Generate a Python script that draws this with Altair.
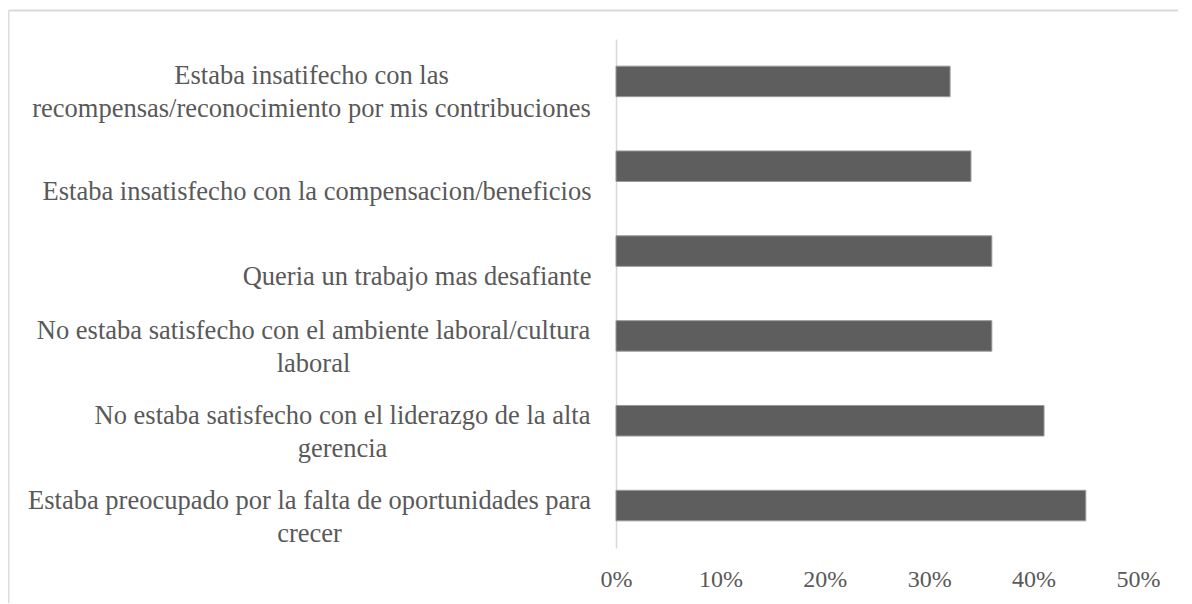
import json
import altair as alt
import pandas as pd

# ---- data ----
categories = [
    "Estaba insatifecho con las|recompensas/reconocimiento por mis contribuciones",
    "Estaba insatisfecho con la compensacion/beneficios",
    "Queria un trabajo mas desafiante",
    "No estaba satisfecho con el ambiente laboral/cultura|laboral",
    "No estaba satisfecho con el liderazgo de la alta|gerencia",
    "Estaba preocupado por la falta de oportunidades para|crecer",
]
values = [0.32, 0.34, 0.36, 0.36, 0.41, 0.45]
tick_values = [0.0, 0.1, 0.2, 0.3, 0.4, 0.5]

df = pd.DataFrame({"motivo": categories, "pct": values})

# ---- layout / style ----
FONT = "Liberation Serif"
TEXT = "#595959"
W, H = 522, 509
PAD = {"left": 608, "top": 31, "right": 40, "bottom": 55}

# two-line labels are centred on their widest line, block right edge near the axis
centre_pad = {categories[0]: 305, categories[3]: 303, categories[4]: 274, categories[5]: 307}
pad_cond = [{"test": f"datum.value === {json.dumps(k)}", "value": v} for k, v in centre_pad.items()]
multi_test = "indexof(datum.value, '|') >= 0"

bars = alt.Chart(df).mark_bar(color="#5e5e5e", stroke="#9a9a9a", strokeWidth=1).encode(
    x=alt.X(
        "pct:Q",
        scale=alt.Scale(domain=[0, 0.5], nice=False, zero=True),
        axis=alt.Axis(
            values=tick_values, format=".0%", grid=False, domain=False, ticks=False, tickSize=0,
            labelFont=FONT, labelFontSize=24, labelColor=TEXT, labelPadding=31,
            labelBaseline="middle", labelFlush=False, title=None,
        ),
    ),
    y=alt.Y(
        "motivo:N",
        sort=categories,
        scale=alt.Scale(paddingInner=0.64, paddingOuter=0.32),
        axis=alt.Axis(
            title=None, ticks=False, tickSize=0, domain=True,
            domainColor="#d9d9d9", domainWidth=1.5, grid=False,
            labelExpr="split(datum.label, '|')",
            labelFont=FONT, labelFontSize=26.5, labelColor=TEXT,
            labelLineHeight=33, labelLimit=1000,
            labelAlign={"condition": {"test": multi_test, "value": "center"}, "value": "right"},
            labelPadding={"condition": pad_cond, "value": 25},
            labelBaseline="bottom",
            labelOffset={"condition": {"test": multi_test, "value": 9}, "value": 40},
        ),
    ),
)

one = alt.Data(values=[{}])
top_border = alt.Chart(one).mark_rule(color="#d9d9d9", strokeWidth=2).encode(
    x=alt.value(-PAD["left"] + 0.5), x2=alt.value(W + PAD["right"]), y=alt.value(-PAD["top"] + 2.5)
)
left_border = alt.Chart(one).mark_rule(color="#dddddd", strokeWidth=1.5).encode(
    x=alt.value(-PAD["left"] + 0.8), y=alt.value(-PAD["top"] + 2.5), y2=alt.value(H + PAD["bottom"])
)

chart = (
    alt.layer(top_border, left_border, bars)
    .properties(width=W, height=H, autosize=alt.AutoSizeParams(type="none"), padding=PAD,
                background="white")
    .configure_view(stroke=None)
)

chart.save("out.html", embed_options={"renderer": "svg", "actions": False})
